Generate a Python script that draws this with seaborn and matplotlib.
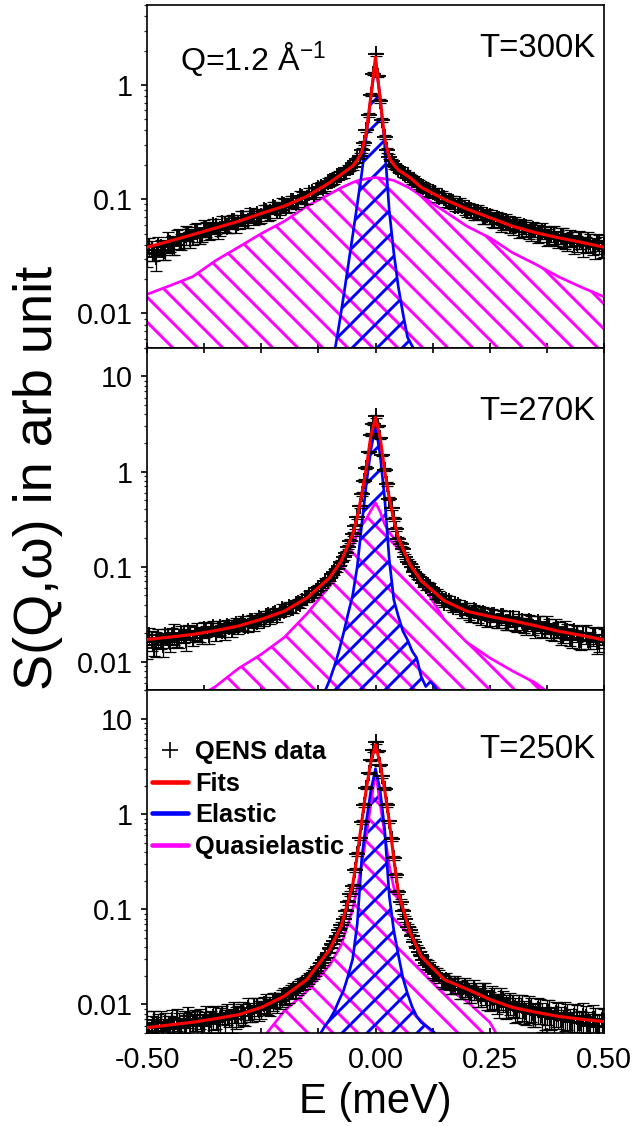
import numpy as np
import pandas as pd
import matplotlib
matplotlib.use("Agg")
import matplotlib.pyplot as plt
import matplotlib.ticker as mticker
from matplotlib.lines import Line2D
import seaborn as sns

# ---------------- data ----------------
E_data = np.round(np.arange(-100, 101) * 0.005, 3)   # energy grid (meV), 0.005 step

data_300 = [0.033, 0.039, 0.036, 0.034, 0.031, 0.040, 0.038, 0.036, 0.035, 0.043,
            0.041, 0.040, 0.039, 0.047, 0.046, 0.043, 0.044, 0.049, 0.050, 0.045,
            0.047, 0.053, 0.052, 0.048, 0.049, 0.056, 0.055, 0.051, 0.053, 0.059,
            0.058, 0.054, 0.055, 0.062, 0.061, 0.057, 0.059, 0.065, 0.064, 0.060,
            0.062, 0.069, 0.068, 0.063, 0.065, 0.073, 0.071, 0.069, 0.074, 0.070,
            0.072, 0.080, 0.079, 0.074, 0.077, 0.085, 0.084, 0.079, 0.081, 0.091,
            0.089, 0.085, 0.087, 0.097, 0.096, 0.093, 0.095, 0.106, 0.104, 0.100,
            0.103, 0.114, 0.115, 0.112, 0.116, 0.126, 0.128, 0.125, 0.130, 0.141,
            0.143, 0.144, 0.148, 0.160, 0.163, 0.162, 0.168, 0.180, 0.186, 0.187,
            0.192, 0.208, 0.225, 0.240, 0.27, 0.31, 0.40, 0.55, 0.82, 1.25,
            1.85, 1.20, 0.73, 0.49, 0.35, 0.27, 0.235, 0.215, 0.196, 0.192,
            0.183, 0.178, 0.168, 0.167, 0.162, 0.153, 0.148, 0.146, 0.139, 0.136,
            0.130, 0.129, 0.124, 0.119, 0.117, 0.116, 0.113, 0.107, 0.105, 0.106,
            0.103, 0.097, 0.096, 0.097, 0.094, 0.088, 0.087, 0.090, 0.088, 0.082,
            0.081, 0.083, 0.080, 0.075, 0.075, 0.078, 0.076, 0.071, 0.070, 0.073,
            0.071, 0.066, 0.066, 0.069, 0.067, 0.062, 0.062, 0.065, 0.063, 0.058,
            0.058, 0.061, 0.059, 0.055, 0.055, 0.058, 0.057, 0.052, 0.052, 0.055,
            0.054, 0.050, 0.050, 0.053, 0.052, 0.047, 0.047, 0.050, 0.049, 0.045,
            0.045, 0.048, 0.047, 0.043, 0.043, 0.046, 0.045, 0.041, 0.041, 0.045,
            0.044, 0.039, 0.040, 0.043, 0.042, 0.038, 0.038, 0.042, 0.041, 0.037,
            0.039]
err_pct_300 = [22, 18, 20, 16, 24, 17, 15, 19, 16, 21,
               15, 18, 17, 14, 20, 16, 15, 19, 14, 17,
               16, 14, 18, 15, 13, 17, 15, 14, 16, 13,
               15, 17, 13, 14, 16, 12, 15, 13, 14, 16,
               12, 14, 15, 12, 13, 15, 11, 14, 12, 13,
               14, 11, 13, 12, 14, 11, 12, 13, 10, 12,
               13, 11, 12, 10, 12, 11, 10, 12, 11, 10,
               11, 10, 9, 11, 10, 9, 10, 9, 10, 8,
               9, 8, 9, 8, 8, 7, 8, 7, 7, 6,
               6, 6, 5, 5, 5, 4, 4, 4, 3, 3,
               3, 3, 4, 4, 4, 5, 5, 5, 6, 6,
               6, 7, 7, 8, 7, 8, 8, 9, 8, 9,
               9, 10, 9, 10, 11, 9, 10, 11, 10, 12,
               10, 11, 12, 10, 13, 11, 12, 13, 11, 12,
               13, 11, 14, 12, 13, 14, 12, 15, 13, 12,
               14, 13, 15, 12, 14, 16, 13, 15, 14, 13,
               16, 14, 13, 17, 15, 14, 16, 13, 17, 15,
               14, 18, 15, 16, 13, 17, 16, 15, 18, 14,
               17, 16, 19, 15, 18, 17, 14, 19, 16, 18,
               17, 20, 16, 19, 18, 15, 21, 17, 19, 18,
               20]

data_270 = [0.015, 0.019, 0.017, 0.014, 0.016, 0.018, 0.017, 0.015, 0.019, 0.018,
            0.016, 0.019, 0.020, 0.017, 0.018, 0.020, 0.019, 0.017, 0.021, 0.020,
            0.018, 0.020, 0.021, 0.019, 0.019, 0.022, 0.021, 0.019, 0.022, 0.023,
            0.020, 0.022, 0.023, 0.021, 0.021, 0.024, 0.023, 0.022, 0.024, 0.025,
            0.023, 0.025, 0.026, 0.024, 0.024, 0.027, 0.027, 0.025, 0.026, 0.029,
            0.028, 0.027, 0.030, 0.031, 0.029, 0.032, 0.033, 0.030, 0.033, 0.036,
            0.034, 0.035, 0.038, 0.037, 0.037, 0.041, 0.042, 0.041, 0.044, 0.047,
            0.047, 0.050, 0.052, 0.052, 0.056, 0.060, 0.062, 0.065, 0.070, 0.072,
            0.077, 0.083, 0.089, 0.094, 0.102, 0.112, 0.125, 0.140, 0.160, 0.185,
            0.22, 0.265, 0.33, 0.43, 0.58, 0.80, 1.10, 1.60, 2.45, 3.2,
            3.8, 3.0, 2.25, 1.50, 1.05, 0.74, 0.52, 0.41, 0.32, 0.25,
            0.197, 0.172, 0.153, 0.128, 0.113, 0.107, 0.099, 0.088, 0.080, 0.078,
            0.073, 0.067, 0.063, 0.064, 0.061, 0.055, 0.051, 0.052, 0.050, 0.045,
            0.042, 0.045, 0.044, 0.040, 0.038, 0.041, 0.040, 0.036, 0.034, 0.037,
            0.036, 0.032, 0.031, 0.035, 0.034, 0.030, 0.029, 0.033, 0.032, 0.028,
            0.028, 0.031, 0.031, 0.027, 0.027, 0.030, 0.030, 0.026, 0.026, 0.029,
            0.029, 0.025, 0.025, 0.028, 0.027, 0.024, 0.024, 0.027, 0.026, 0.023,
            0.022, 0.026, 0.025, 0.022, 0.021, 0.025, 0.024, 0.021, 0.020, 0.023,
            0.022, 0.019, 0.019, 0.022, 0.021, 0.018, 0.018, 0.021, 0.020, 0.017,
            0.017, 0.020, 0.020, 0.017, 0.017, 0.019, 0.019, 0.016, 0.016, 0.019,
            0.018]
err_pct_270 = [28, 20, 24, 18, 30, 22, 19, 25, 17, 23,
               21, 18, 24, 16, 22, 19, 17, 23, 15, 20,
               19, 16, 21, 15, 18, 20, 14, 19, 16, 17,
               18, 15, 17, 14, 19, 16, 13, 17, 15, 16,
               15, 14, 16, 13, 15, 12, 14, 15, 12, 13,
               14, 12, 13, 11, 13, 12, 11, 12, 10, 12,
               11, 10, 12, 10, 11, 9, 10, 11, 9, 10,
               9, 10, 9, 8, 9, 8, 9, 8, 8, 7,
               8, 7, 7, 7, 6, 6, 6, 5, 5, 5,
               5, 5, 4, 4, 4, 4, 3, 3, 3, 3,
               3, 3, 3, 3, 4, 4, 4, 4, 5, 5,
               5, 5, 6, 6, 6, 7, 7, 7, 8, 8,
               8, 9, 9, 9, 10, 9, 10, 11, 10, 11,
               11, 12, 11, 12, 13, 12, 13, 12, 14, 13,
               14, 13, 15, 14, 13, 15, 16, 14, 15, 17,
               15, 16, 14, 17, 16, 18, 15, 17, 16, 19,
               17, 16, 18, 15, 19, 17, 20, 16, 18, 17,
               19, 17, 20, 18, 16, 21, 18, 19, 17, 22,
               18, 20, 17, 21, 19, 18, 22, 17, 20, 19,
               21, 18, 23, 19, 20, 22, 18, 24, 20, 21,
               22]

data_250 = [0.0062, 0.0050, 0.0056, 0.0068, 0.0053, 0.0060, 0.0066, 0.0052, 0.0064, 0.0057,
            0.0058, 0.0069, 0.0055, 0.0071, 0.0061, 0.0056, 0.0067, 0.0060, 0.0075, 0.0063,
            0.0062, 0.0070, 0.0064, 0.0072, 0.0059, 0.0066, 0.0078, 0.0063, 0.0068, 0.0074,
            0.0076, 0.0066, 0.0070, 0.0079, 0.0069, 0.0081, 0.0073, 0.0070, 0.0085, 0.0075,
            0.0077, 0.0082, 0.0083, 0.0076, 0.0092, 0.0085, 0.0082, 0.0094, 0.0097, 0.0088,
            0.0090, 0.0101, 0.0104, 0.0095, 0.0098, 0.0108, 0.0112, 0.0105, 0.0110, 0.0119,
            0.0126, 0.0121, 0.0128, 0.0136, 0.0141, 0.0139, 0.0150, 0.0158, 0.0165, 0.0170,
            0.0180, 0.0190, 0.0205, 0.0212, 0.0225, 0.0245, 0.027, 0.029, 0.031, 0.035,
            0.039, 0.043, 0.047, 0.053, 0.061, 0.069, 0.080, 0.096, 0.119, 0.146,
            0.178, 0.26, 0.38, 0.56, 0.83, 1.25, 1.9, 2.7, 3.7, 4.7,
            5.7, 4.6, 3.3, 2.5, 1.85, 1.25, 0.84, 0.55, 0.35, 0.23,
            0.152, 0.120, 0.096, 0.080, 0.066, 0.060, 0.053, 0.045, 0.039, 0.036,
            0.033, 0.029, 0.027, 0.026, 0.025, 0.022, 0.021, 0.021, 0.020, 0.018,
            0.0175, 0.0180, 0.0172, 0.0160, 0.0158, 0.0165, 0.0160, 0.0145, 0.0143, 0.0155,
            0.0150, 0.0136, 0.0132, 0.0145, 0.0140, 0.0126, 0.0122, 0.0138, 0.0135, 0.0115,
            0.0110, 0.0124, 0.0118, 0.0105, 0.0101, 0.0117, 0.0112, 0.0098, 0.0094, 0.0105,
            0.0100, 0.0091, 0.0088, 0.0099, 0.0096, 0.0086, 0.0083, 0.0094, 0.0091, 0.0081,
            0.0079, 0.0090, 0.0088, 0.0077, 0.0074, 0.0086, 0.0084, 0.0073, 0.0071, 0.0082,
            0.0080, 0.0069, 0.0068, 0.0079, 0.0077, 0.0066, 0.0065, 0.0076, 0.0074, 0.0064,
            0.0064, 0.0075, 0.0073, 0.0062, 0.0060, 0.0071, 0.0070, 0.0059, 0.0058, 0.0069,
            0.0067]
err_pct_250 = [38, 30, 34, 27, 40, 31, 28, 36, 26, 33,
               30, 27, 35, 25, 32, 29, 26, 34, 24, 31,
               29, 25, 33, 24, 30, 27, 23, 31, 26, 28,
               27, 24, 30, 22, 28, 25, 21, 29, 24, 26,
               25, 22, 27, 21, 26, 23, 20, 25, 22, 24,
               22, 20, 24, 19, 23, 21, 18, 22, 19, 20,
               19, 18, 20, 17, 18, 16, 17, 16, 15, 15,
               14, 14, 13, 13, 12, 12, 11, 11, 10, 10,
               9, 9, 8, 8, 8, 7, 7, 6, 6, 6,
               5, 5, 5, 4, 4, 4, 4, 3, 3, 3,
               3, 3, 3, 3, 4, 4, 4, 4, 5, 5,
               5, 6, 6, 7, 7, 8, 8, 9, 9, 10,
               10, 11, 12, 12, 13, 14, 14, 15, 16, 16,
               17, 18, 17, 19, 18, 20, 19, 21, 20, 22,
               21, 23, 22, 24, 21, 25, 23, 22, 26, 24,
               23, 27, 25, 24, 28, 26, 25, 29, 24, 27,
               26, 30, 25, 28, 31, 27, 26, 32, 28, 29,
               27, 31, 29, 33, 28, 30, 34, 27, 32, 29,
               31, 35, 28, 33, 30, 36, 29, 32, 34, 30,
               33, 37, 31, 35, 32, 38, 30, 36, 33, 34,
               35]

# smooth curves (fits and quasielastic components)
E_curve = [-0.5, -0.45, -0.4, -0.35, -0.3, -0.25, -0.2, -0.15, -0.1, -0.075, -0.05, -0.04,
           -0.03, -0.02, -0.01, 0.0, 0.01, 0.02, 0.03, 0.04, 0.05, 0.075, 0.1, 0.15, 0.2,
           0.25, 0.3, 0.35, 0.4, 0.45, 0.5]

fit_300 = [0.038, 0.043, 0.049, 0.056, 0.064, 0.075, 0.087, 0.106, 0.14, 0.165, 0.195, 0.22,
           0.26, 0.39, 0.80, 1.76, 0.75, 0.34, 0.23, 0.20, 0.18, 0.155, 0.127, 0.10, 0.082,
           0.069, 0.058, 0.051, 0.046, 0.042, 0.038]
qe_300 = [0.0147, 0.0175, 0.021, 0.029, 0.038, 0.05, 0.064, 0.087, 0.111, 0.126, 0.14, 0.145,
          0.148, 0.151, 0.153, 0.155, 0.153, 0.151, 0.149, 0.146, 0.14, 0.125, 0.107, 0.079,
          0.058, 0.046, 0.034, 0.027, 0.021, 0.017, 0.014]

fit_270 = [0.0172, 0.0182, 0.0194, 0.0213, 0.0238, 0.028, 0.034, 0.047, 0.077, 0.115, 0.22,
           0.33, 0.58, 1.1, 2.4, 3.7, 2.3, 1.02, 0.53, 0.31, 0.2, 0.106, 0.071, 0.044, 0.034,
           0.030, 0.027, 0.024, 0.021, 0.019, 0.017]
qe_270 = [0.0015, 0.0025, 0.004, 0.0055, 0.0085, 0.012, 0.018, 0.032, 0.063, 0.1, 0.17, 0.22,
          0.27, 0.32, 0.39, 0.47, 0.38, 0.28, 0.23, 0.2, 0.18, 0.11, 0.068, 0.028, 0.016,
          0.011, 0.008, 0.006, 0.004, 0.0025, 0.0015]

fit_250 = [0.0057, 0.0061, 0.0065, 0.0071, 0.0078, 0.0093, 0.0122, 0.0183, 0.038, 0.067, 0.18,
           0.37, 0.84, 1.88, 3.6, 5.4, 3.4, 1.8, 0.85, 0.34, 0.15, 0.058, 0.032, 0.0183,
           0.0145, 0.0113, 0.0093, 0.0083, 0.0075, 0.007, 0.0066]
qe_250 = [0.0005, 0.0008, 0.0012, 0.0018, 0.0027, 0.0042, 0.0085, 0.0138, 0.026, 0.042, 0.1,
          0.17, 0.3, 0.6, 1.3, 2.8, 1.3, 0.62, 0.29, 0.17, 0.13, 0.058, 0.033, 0.0155, 0.0108,
          0.0065, 0.0025, 0.0016, 0.0011, 0.0007, 0.0005]

# elastic components
E_el_300 = [-0.10, -0.09, -0.08, -0.07, -0.06, -0.05, -0.04, -0.03, -0.02, -0.01, 0.0,
            0.01, 0.02, 0.03, 0.04, 0.05, 0.06, 0.07, 0.08, 0.09, 0.10]
el_300 = [0.003, 0.0045, 0.0078, 0.014, 0.026, 0.048, 0.09, 0.17, 0.36, 0.8, 1.6,
          0.8, 0.3, 0.08, 0.034, 0.017, 0.010, 0.0062, 0.0052, 0.0045, 0.003]

E_el_270 = [-0.11, -0.10, -0.09, -0.08, -0.07, -0.06, -0.05, -0.04, -0.03, -0.02, -0.01, 0.0,
            0.01, 0.02, 0.03, 0.04, 0.05, 0.06, 0.07, 0.08, 0.09, 0.10, 0.11, 0.12, 0.13, 0.14]
el_270 = [0.005, 0.0065, 0.009, 0.013, 0.02, 0.032, 0.05, 0.1, 0.28, 0.75, 1.7, 3.1,
          1.5, 0.53, 0.12, 0.045, 0.03, 0.021, 0.017, 0.013, 0.011, 0.007, 0.0055, 0.0062,
          0.0055, 0.0045]

E_el_250 = [-0.12, -0.11, -0.10, -0.09, -0.08, -0.07, -0.06, -0.05, -0.04, -0.03, -0.02, -0.01,
            0.0, 0.01, 0.02, 0.03, 0.04, 0.05, 0.06, 0.07, 0.08, 0.09, 0.10, 0.11, 0.12, 0.13]
el_250 = [0.005, 0.006, 0.007, 0.0085, 0.011, 0.014, 0.02, 0.03, 0.07, 0.35, 0.85, 1.8,
          3.0, 1.8, 0.7, 0.14, 0.06, 0.033, 0.019, 0.013, 0.0095, 0.0075, 0.0065, 0.006,
          0.0055, 0.005]

temps = ["T=300K", "T=270K", "T=250K"]
y_limits = [(0.005, 5), (0.005, 20), (0.005, 20)]
x_ticks = [-0.50, -0.25, 0.00, 0.25, 0.50]

# ---------------- style ----------------
sns.set_theme(style="ticks")
plt.rcParams["font.family"] = ["Liberation Sans", "DejaVu Sans"]
plt.rcParams["hatch.linewidth"] = 1.4
plt.rcParams["axes.linewidth"] = 0.8
plt.rcParams["axes.unicode_minus"] = False
plt.rcParams["text.color"] = "black"
plt.rcParams["axes.labelcolor"] = "black"

DPI = 150
fig = plt.figure(figsize=(637 / DPI, 1126 / DPI), dpi=DPI)
left, width, h = 0.2308, 0.7174, 0.3043
bottoms = [0.6911, 0.3868, 0.0825]
axes = [fig.add_axes([left, b, width, h]) for b in bottoms]

panels = [
    (data_300, err_pct_300, fit_300, qe_300, E_el_300, el_300),
    (data_270, err_pct_270, fit_270, qe_270, E_el_270, el_270),
    (data_250, err_pct_250, fit_250, qe_250, E_el_250, el_250),
]

RED, BLUE, MAG = "#ff0000", "#0000ff", "#ff00ff"

for i, (ax, (dat, errp, fit, qe, Eel, el)) in enumerate(zip(axes, panels)):
    ax.set_yscale("log")
    dat = np.asarray(dat)
    yerr = dat * np.asarray(errp) / 100.0
    df_fit = pd.DataFrame({"E": E_curve, "S": fit})
    df_qe = pd.DataFrame({"E": E_curve, "S": qe})
    df_el = pd.DataFrame({"E": Eel, "S": el})

    # hatched component areas
    ax.fill_between(df_qe["E"], 1e-6, df_qe["S"], facecolor="none", edgecolor=MAG,
                    hatch="\\\\", linewidth=0, zorder=1)
    ax.fill_between(df_el["E"], 1e-6, df_el["S"], facecolor="none", edgecolor=BLUE,
                    hatch="//", linewidth=0, zorder=1.2)
    sns.lineplot(data=df_qe, x="E", y="S", ax=ax, color=MAG, lw=1.3, sort=False,
                 estimator=None, zorder=2)
    sns.lineplot(data=df_el, x="E", y="S", ax=ax, color=BLUE, lw=1.3, sort=False,
                 estimator=None, zorder=2.2)
    # data
    ax.errorbar(E_data, dat, yerr=yerr, fmt="none", ecolor="black", elinewidth=0.6,
                capsize=3.0, capthick=0.6, zorder=3)
    sns.scatterplot(x=E_data, y=dat, ax=ax, marker="+", color="black", s=60,
                    linewidth=0.9, zorder=3.5)
    # fit
    sns.lineplot(data=df_fit, x="E", y="S", ax=ax, color=RED, lw=1.5, sort=False,
                 estimator=None, zorder=4)

    ax.set_xlim(-0.5, 0.5)
    ax.set_ylim(*y_limits[i])
    ax.set_xlabel("")
    ax.set_ylabel("")
    ax.set_xticks(x_ticks)
    ax.xaxis.set_major_formatter(mticker.FormatStrFormatter("%.2f"))
    ax.xaxis.set_minor_locator(mticker.MultipleLocator(0.125))
    ax.yaxis.set_major_locator(mticker.LogLocator(base=10, numticks=10))
    ax.yaxis.set_minor_locator(mticker.LogLocator(base=10, subs=np.arange(2, 10), numticks=20))
    ax.yaxis.set_major_formatter(mticker.FuncFormatter(lambda v, _: f"{v:g}"))
    ax.yaxis.set_minor_formatter(mticker.NullFormatter())
    ax.tick_params(axis="y", which="major", direction="out", length=3.0, width=0.8,
                   labelsize=13.8, pad=4, colors="black")
    ax.tick_params(axis="y", which="minor", direction="out", length=1.6, width=0.6)
    ax.tick_params(axis="x", which="both", direction="in", bottom=True, top=(i == 1),
                   length=2.6, width=0.8, labelsize=13.8, pad=6, colors="black")
    if i < 2:
        ax.tick_params(axis="x", labelbottom=False)
    for sp in ax.spines.values():
        sp.set_color("black")
        sp.set_linewidth(0.8)
    ax.text(0.982, {0: 0.875, 1: 0.813, 2: 0.828}[i], temps[i], transform=ax.transAxes,
            ha="right", va="center", fontsize=15.8, color="black")

axes[0].text(0.072, 0.84, "Q=1.2 Å$^{\\mathregular{-1}}$", transform=axes[0].transAxes,
             ha="left", va="center", fontsize=15.5, color="black")

handles = [
    Line2D([], [], ls="none", marker="+", color="black", markersize=8, markeredgewidth=0.8),
    Line2D([], [], color=RED, lw=2.2),
    Line2D([], [], color=BLUE, lw=2.2),
    Line2D([], [], color=MAG, lw=2.2),
]
labels = ["QENS data", "Fits", "Elastic", "Quasielastic"]
leg = axes[2].legend(handles, labels, loc="upper left", bbox_to_anchor=(0.0, 0.87),
                     frameon=False, prop={"weight": "bold", "size": 12.2}, handlelength=1.4,
                     handletextpad=0.3, labelspacing=0.3, borderaxespad=0.1, borderpad=0.1)
for t in leg.get_texts():
    t.set_color("black")

fig.text(0.06, 0.576, "S(Q,ω) in arb unit", rotation=90, ha="center", va="center",
         fontsize=26, color="black")
fig.text(375 / 637, 1 - 1102 / 1126, "E (meV)", ha="center", va="center",
         fontsize=20, color="black")

fig.savefig("out.png", dpi=DPI)
